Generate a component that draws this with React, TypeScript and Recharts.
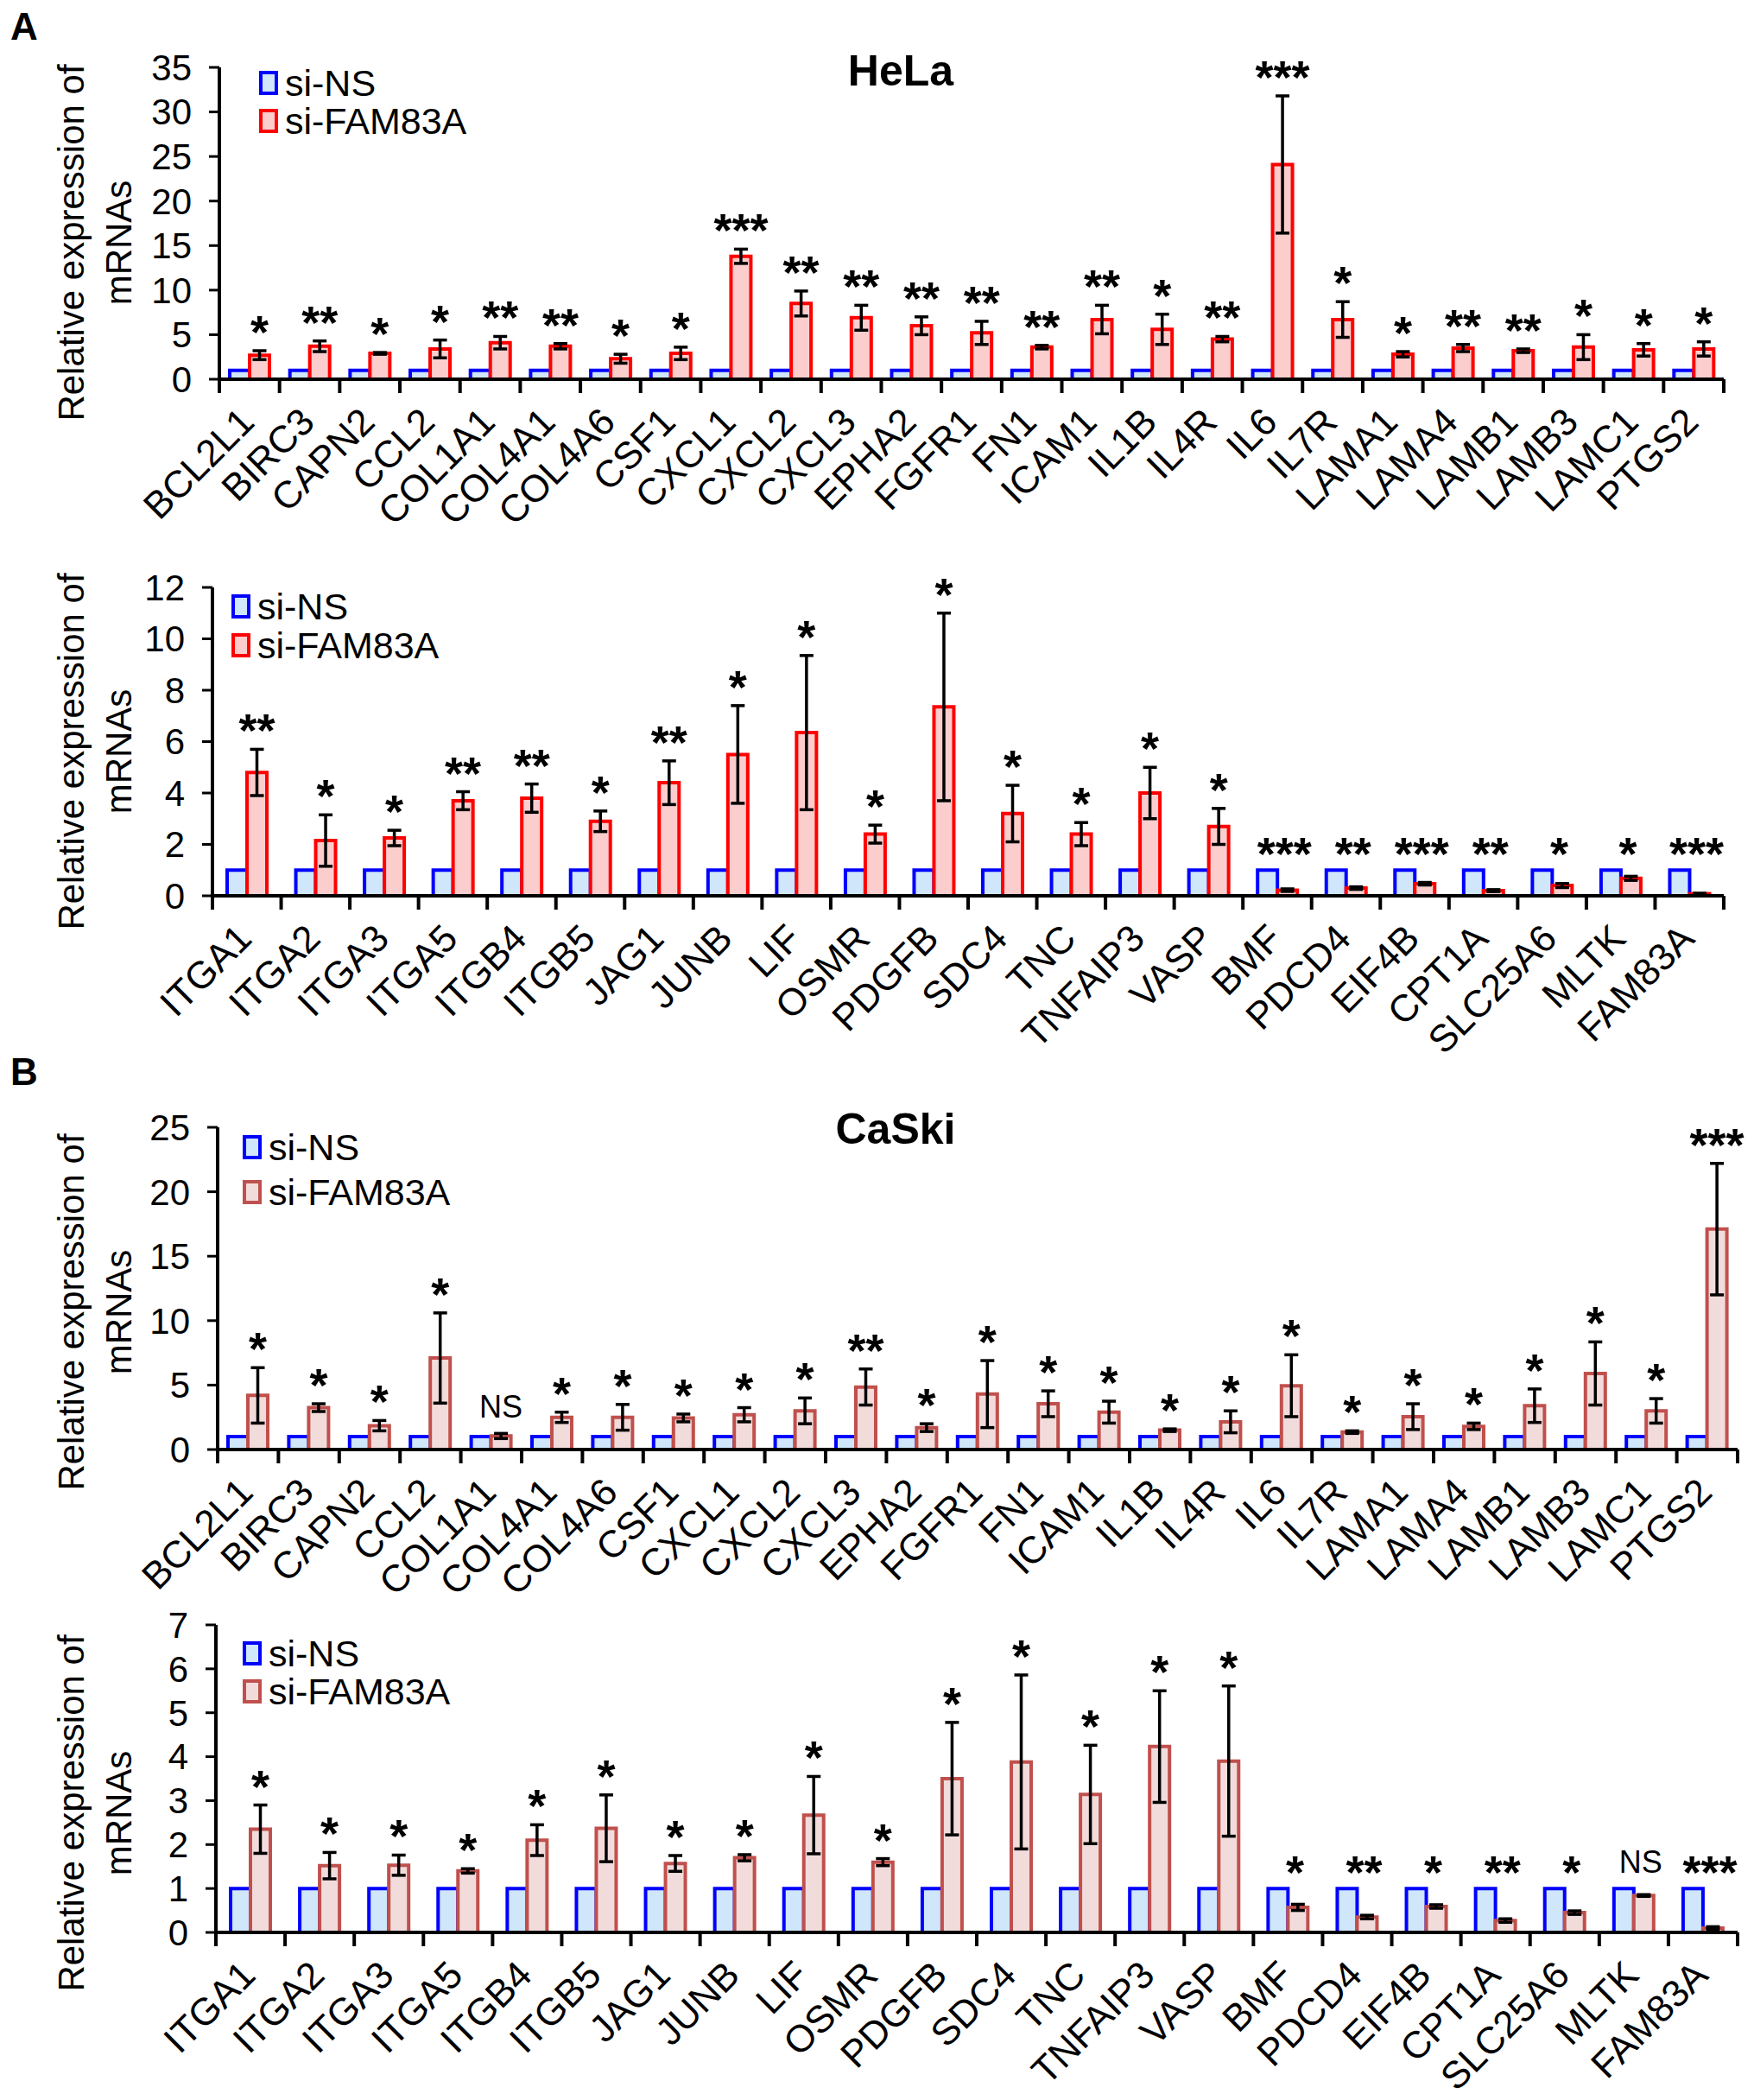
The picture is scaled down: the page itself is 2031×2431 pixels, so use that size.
import {Bar, BarChart, ErrorBar, LabelList, XAxis, YAxis} from 'recharts'
import {JSX} from 'react'

const FONT = '"Liberation Sans", Arial, sans-serif'
const W = 2031

// gene panels
const genesTop = ['BCL2L1', 'BIRC3', 'CAPN2', 'CCL2', 'COL1A1', 'COL4A1', 'COL4A6', 'CSF1', 'CXCL1', 'CXCL2', 'CXCL3', 'EPHA2', 'FGFR1', 'FN1', 'ICAM1', 'IL1B', 'IL4R', 'IL6', 'IL7R', 'LAMA1', 'LAMA4', 'LAMB1', 'LAMB3', 'LAMC1', 'PTGS2']
const genesBottom = ['ITGA1', 'ITGA2', 'ITGA3', 'ITGA5', 'ITGB4', 'ITGB5', 'JAG1', 'JUNB', 'LIF', 'OSMR', 'PDGFB', 'SDC4', 'TNC', 'TNFAIP3', 'VASP', 'BMF', 'PDCD4', 'EIF4B', 'CPT1A', 'SLC25A6', 'MLTK', 'FAM83A']

const nsTop = [1, 1, 1, 1, 1, 1, 1, 1, 1, 1, 1, 1, 1, 1, 1, 1, 1, 1, 1, 1, 1, 1, 1, 1, 1]
const nsBottom = [1, 1, 1, 1, 1, 1, 1, 1, 1, 1, 1, 1, 1, 1, 1, 1, 1, 1, 1, 1, 1, 1]

// HeLa
const helaFam1 = [2.7, 3.7, 2.9, 3.4, 4.1, 3.7, 2.3, 2.9, 13.8, 8.5, 6.9, 6.0, 5.2, 3.6, 6.7, 5.6, 4.5, 24.1, 6.7, 2.8, 3.5, 3.2, 3.6, 3.3, 3.4]
const helaErr1 = [0.5, 0.6, 0.1, 1.0, 0.7, 0.3, 0.5, 0.7, 0.8, 1.4, 1.4, 1.0, 1.3, 0.2, 1.6, 1.7, 0.3, 7.7, 2.0, 0.3, 0.4, 0.2, 1.4, 0.7, 0.8]
const helaSig1 = ['*', '**', '*', '*', '**', '**', '*', '*', '***', '**', '**', '**', '**', '**', '**', '*', '**', '***', '*', '*', '**', '**', '*', '*', '*']

const helaFam2 = [4.8, 2.15, 2.25, 3.7, 3.8, 2.9, 4.4, 5.5, 6.35, 2.4, 7.35, 3.2, 2.4, 4.0, 2.7, 0.22, 0.3, 0.47, 0.2, 0.4, 0.68, 0.08]
const helaErr2 = [0.9, 1.0, 0.3, 0.35, 0.55, 0.4, 0.85, 1.9, 3.0, 0.35, 3.65, 1.1, 0.45, 1.0, 0.7, 0.05, 0.05, 0.05, 0.04, 0.08, 0.08, 0.02]
const helaSig2 = ['**', '*', '*', '**', '**', '*', '**', '*', '*', '*', '*', '*', '*', '*', '*', '***', '**', '***', '**', '*', '*', '***']

// CaSki
const caskiFam1 = [4.2, 3.25, 1.85, 7.1, 1.05, 2.5, 2.5, 2.45, 2.7, 3.0, 4.85, 1.7, 4.3, 3.55, 2.9, 1.5, 2.15, 4.95, 1.35, 2.55, 1.8, 3.4, 5.9, 3.0, 17.1]
const caskiErr1 = [2.15, 0.3, 0.4, 3.5, 0.2, 0.4, 1.0, 0.3, 0.55, 1.0, 1.4, 0.3, 2.6, 1.0, 0.85, 0.1, 0.85, 2.4, 0.1, 1.0, 0.25, 1.3, 2.45, 0.95, 5.1]
const caskiSig1 = ['*', '*', '*', '*', 'NS', '*', '*', '*', '*', '*', '**', '*', '*', '*', '*', '*', '*', '*', '*', '*', '*', '*', '*', '*', '***']

const caskiFam2 = [2.35, 1.52, 1.53, 1.4, 2.1, 2.37, 1.57, 1.7, 2.67, 1.6, 3.5, 3.88, 3.14, 4.23, 3.9, 0.57, 0.35, 0.59, 0.27, 0.45, 0.84, 0.1]
const caskiErr2 = [0.55, 0.3, 0.23, 0.05, 0.35, 0.76, 0.18, 0.07, 0.88, 0.08, 1.28, 1.98, 1.12, 1.27, 1.71, 0.07, 0.04, 0.04, 0.04, 0.04, 0.02, 0.03]
const caskiSig2 = ['*', '*', '*', '*', '*', '*', '*', '*', '*', '*', '*', '*', '*', '*', '*', '*', '**', '*', '**', '*', 'NS', '***']

const ticks35 = [0, 5, 10, 15, 20, 25, 30, 35]
const ticks12 = [0, 2, 4, 6, 8, 10, 12]
const ticks25 = [0, 5, 10, 15, 20, 25]
const ticks7 = [0, 1, 2, 3, 4, 5, 6, 7]

const NS_COLOR = {fill: '#cfe6fb', stroke: '#0000ff'}
const FAM_A = {fill: '#fbcdcd', stroke: '#ff0000'}
const FAM_B = {fill: '#f2dcdb', stroke: '#c0504d'}

type PanelProps = {
	genes: string[]
	ns: number[]
	fam: number[]
	err: number[]
	sig: string[]
	ticks: number[]
	famColor: {fill: string; stroke: string}
	top: number
	height: number
	plotTop: number
	plotBottom: number
	plotLeft: number
	plotRight: number
}

const Panel = (p: PanelProps): JSX.Element => {
	const data = p.genes.map((g, i) => ({gene: g, ns: p.ns[i], fam: p.fam[i], err: p.err[i], sig: p.sig[i]}))
	const n = p.genes.length
	const bw = (p.plotRight - p.plotLeft) / n
	const yAxisW = 100

	const GeneTick = (t: any) => {
		const {x, y, payload, index} = t
		const half = payload && payload.offset ? payload.offset : bw / 2
		const tx = x + 8
		const ty = y + 52
		return (
			<g>
				<line x1={x - half} x2={x - half} y1={y} y2={y + 16} stroke='#000' strokeWidth={4} />
				{index === n - 1 && <line x1={x + half} x2={x + half} y1={y} y2={y + 16} stroke='#000' strokeWidth={4} />}
				<text x={tx} y={ty} transform={`rotate(-45, ${tx}, ${ty})`} textAnchor='end' fontSize={44} fill='#000'>
					{payload.value}
				</text>
			</g>
		)
	}

	// significance mark above the taller of the pair
	const SigLabel = (l: any) => {
		const vb = l.viewBox && l.viewBox.width !== undefined ? l.viewBox : l
		const i = l.index
		const pxPerUnit = vb.height / p.fam[i]
		const base = vb.y + vb.height
		const famTop = p.fam[i] + p.err[i]
		const overNs = p.ns[i] > famTop
		const topPx = base - Math.max(famTop, p.ns[i]) * pxPerUnit
		const cx = overNs ? vb.x + vb.width * 0.35 : vb.x + vb.width / 2
		const isNS = l.value === 'NS'
		return (
			<text x={cx} y={isNS ? topPx - 18 : topPx - (overNs ? 0 : 3)} textAnchor='middle' fontSize={isNS ? 36 : 54}
				fontWeight={isNS ? 'normal' : 'bold'} fill='#000'>
				{l.value}
			</text>
		)
	}

	return (
		<div style={{position: 'absolute', left: 0, top: p.top}}>
			<BarChart
				width={W}
				height={p.height}
				data={data}
				barGap={0}
				margin={{top: p.plotTop - p.top, right: W - p.plotRight, bottom: 0, left: p.plotLeft - yAxisW}}
			>
				<XAxis
					dataKey='gene'
					type='category'
					interval={0}
					height={p.top + p.height - p.plotBottom}
					tickSize={0}
					tickMargin={0}
					tickLine={false}
					axisLine={{stroke: '#000', strokeWidth: 4}}
					tick={GeneTick}
				/>
				<YAxis
					type='number'
					width={yAxisW}
					domain={[0, p.ticks[p.ticks.length - 1]]}
					ticks={p.ticks}
					interval={0}
					tickSize={12}
					tickMargin={20}
					tick={{fontSize: 42, fill: '#000'}}
					axisLine={{stroke: '#000', strokeWidth: 4}}
					tickLine={{stroke: '#000', strokeWidth: 3}}
				/>
				<Bar dataKey='ns' fill={NS_COLOR.fill} stroke={NS_COLOR.stroke} strokeWidth={4} barSize={23} isAnimationActive={false} />
				<Bar dataKey='fam' fill={p.famColor.fill} stroke={p.famColor.stroke} strokeWidth={4} barSize={23} isAnimationActive={false}>
					<ErrorBar dataKey='err' direction='y' width={8} stroke='#000' strokeWidth={3.5} isAnimationActive={false} />
					<LabelList dataKey='sig' content={SigLabel} />
				</Bar>
			</BarChart>
		</div>
	)
}

// legend, titles, axis titles
const Overlay = (): JSX.Element => {
	const legend = (x: number, y1: number, y2: number, fam: {fill: string; stroke: string}) => (
		<g>
			<rect x={x} y={y1 - 12} width={18} height={24} fill={NS_COLOR.fill} stroke={NS_COLOR.stroke} strokeWidth={4} />
			<text x={x + 28} y={y1 + 15} fontSize={43}>si-NS</text>
			<rect x={x} y={y2 - 12} width={18} height={24} fill={fam.fill} stroke={fam.stroke} strokeWidth={4} />
			<text x={x + 28} y={y2 + 15} fontSize={43}>si-FAM83A</text>
		</g>
	)
	const yTitle = (cy: number) => (
		<g>
			<text x={82} y={cy} dy='0.35em' transform={`rotate(-90, 82, ${cy})`} textAnchor='middle' fontSize={42}>Relative expression of</text>
			<text x={137} y={cy} dy='0.35em' transform={`rotate(-90, 137, ${cy})`} textAnchor='middle' fontSize={42}>mRNAs</text>
		</g>
	)
	return (
		<svg width={W} height={2431} style={{position: 'absolute', left: 0, top: 0, pointerEvents: 'none'}}>
			<text x={12} y={46} fontSize={44} fontWeight='bold'>A</text>
			<text x={12} y={1256} fontSize={44} fontWeight='bold'>B</text>
			<text x={1043} y={99} fontSize={50} fontWeight='bold' textAnchor='middle'>HeLa</text>
			<text x={1037} y={1324} fontSize={50} fontWeight='bold' textAnchor='middle'>CaSki</text>
			{yTitle(281)}
			{yTitle(870)}
			{yTitle(1519)}
			{yTitle(2099)}
			{legend(302, 96, 140, FAM_A)}
			{legend(270, 702, 747, FAM_A)}
			{legend(283, 1328, 1380, FAM_B)}
			{legend(283, 1914, 1958, FAM_B)}
		</svg>
	)
}

const App = (): JSX.Element => {
	return (
		<div style={{position: 'absolute', left: 0, top: 0, width: W, height: 2431, background: '#fff', fontFamily: FONT, color: '#000'}}>
			<Panel genes={genesTop} ns={nsTop} fam={helaFam1} err={helaErr1} sig={helaSig1} ticks={ticks35} famColor={FAM_A}
				top={0} height={640} plotTop={78} plotBottom={439} plotLeft={254} plotRight={1996} />
			<Panel genes={genesBottom} ns={nsBottom} fam={helaFam2} err={helaErr2} sig={helaSig2} ticks={ticks12} famColor={FAM_A}
				top={600} height={640} plotTop={680} plotBottom={1037} plotLeft={246} plotRight={1996} />
			<Panel genes={genesTop} ns={nsTop} fam={caskiFam1} err={caskiErr1} sig={caskiSig1} ticks={ticks25} famColor={FAM_B}
				top={1220} height={660} plotTop={1305} plotBottom={1678} plotLeft={252} plotRight={2012} />
			<Panel genes={genesBottom} ns={nsBottom} fam={caskiFam2} err={caskiErr2} sig={caskiSig2} ticks={ticks7} famColor={FAM_B}
				top={1840} height={591} plotTop={1881} plotBottom={2237} plotLeft={250} plotRight={2012} />
			<Overlay />
		</div>
	)
}

export default App
